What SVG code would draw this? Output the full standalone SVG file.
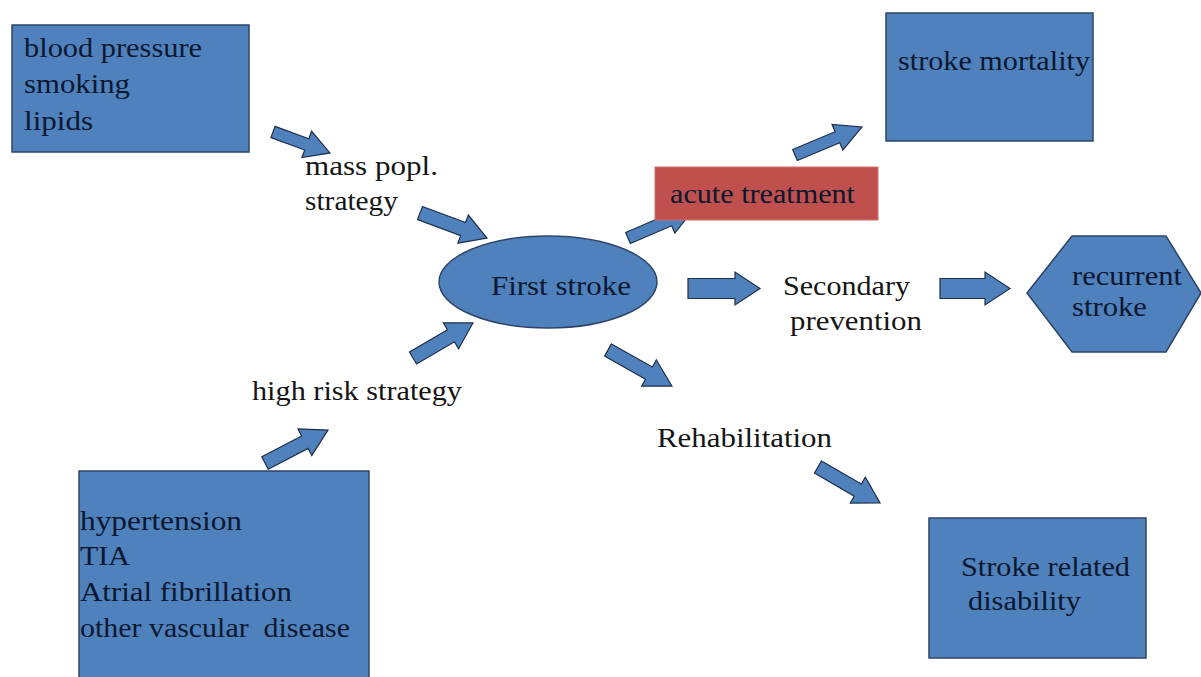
<svg xmlns="http://www.w3.org/2000/svg" width="1201" height="677" viewBox="0 0 1201 677">
  <style>
    .node { fill: #4F81BD; stroke: #2E4466; stroke-width: 1.5; }
    .alert { fill: #C0504D; stroke: #D07070; stroke-width: 1; }
    .arrow { fill: #4F81BD; stroke: #1F2F4A; stroke-width: 1.2; stroke-linejoin: miter; }
    .in { fill: #0B1830; }
    .out { fill: #151515; }
  </style>
  <rect width="1201" height="677" fill="#ffffff"/>

  <!-- connectors: block arrows drawn along their own axis -->
  <g id="connectors">
    <path class="arrow" transform="translate(273,132) rotate(20.2)" d="M0,-6 L36,-6 L36,-14 L60.7,0 L36,14 L36,6 L0,6 Z"/>
    <path class="arrow" transform="translate(420,213) rotate(20.5)" d="M0,-7 L46,-7 L46,-15 L71.5,0 L46,15 L46,7 L0,7 Z"/>
    <path class="arrow" transform="translate(628,238) rotate(-23.3)" d="M0,-6 L45,-6 L45,-14 L70.8,0 L45,14 L45,6 L0,6 Z"/>
    <path class="arrow" transform="translate(795,155) rotate(-22.7)" d="M0,-6 L46,-6 L46,-14 L72.6,0 L46,14 L46,6 L0,6 Z"/>
    <path class="arrow" transform="translate(688,288.5)" d="M0,-10 L47,-10 L47,-16.5 L72,0 L47,16.5 L47,10 L0,10 Z"/>
    <path class="arrow" transform="translate(940,288.5)" d="M0,-10 L45,-10 L45,-16.5 L70,0 L45,16.5 L45,10 L0,10 Z"/>
    <path class="arrow" transform="translate(608,350) rotate(29.4)" d="M0,-7 L47,-7 L47,-15 L73.4,0 L47,15 L47,7 L0,7 Z"/>
    <path class="arrow" transform="translate(818,467) rotate(30.1)" d="M0,-7 L46,-7 L46,-15 L71.7,0 L46,15 L46,7 L0,7 Z"/>
    <path class="arrow" transform="translate(413,358) rotate(-30.3)" d="M0,-7 L44,-7 L44,-15 L69.5,0 L44,15 L44,7 L0,7 Z"/>
    <path class="arrow" transform="translate(265,463) rotate(-27.6)" d="M0,-7 L45,-7 L45,-15 L71.1,0 L45,15 L45,7 L0,7 Z"/>
  </g>

  <!-- all labels share one serif face -->
  <g font-family="Times New Roman, Liberation Serif, Tinos, DejaVu Serif, Noto Serif, serif" font-size="28">
    <!-- risk factors, population level -->
    <g id="risk-factors">
      <rect class="node" x="12" y="25" width="237" height="127"/>
      <text class="in" x="24" y="57" textLength="178" lengthAdjust="spacingAndGlyphs">blood pressure</text>
      <text class="in" x="24" y="93" textLength="106" lengthAdjust="spacingAndGlyphs">smoking</text>
      <text class="in" x="24" y="130" textLength="69" lengthAdjust="spacingAndGlyphs">lipids</text>
    </g>

    <g id="mass-strategy">
      <text class="out" x="305" y="175" textLength="133" lengthAdjust="spacingAndGlyphs">mass popl.</text>
      <text class="out" x="305" y="210" textLength="93" lengthAdjust="spacingAndGlyphs">strategy</text>
    </g>

    <g id="stroke-mortality">
      <rect class="node" x="886" y="13" width="207" height="128"/>
      <text class="in" x="898" y="70" textLength="192" lengthAdjust="spacingAndGlyphs">stroke mortality</text>
    </g>

    <g id="acute-treatment">
      <rect class="alert" x="655" y="167" width="223" height="53"/>
      <text class="in" x="670" y="203" textLength="185" lengthAdjust="spacingAndGlyphs">acute treatment</text>
    </g>

    <g id="first-stroke">
      <ellipse class="node" cx="548" cy="282" rx="109" ry="46"/>
      <text class="in" x="491" y="295" textLength="140" lengthAdjust="spacingAndGlyphs">First stroke</text>
    </g>

    <g id="secondary-prevention">
      <text class="out" x="783" y="295" textLength="127" lengthAdjust="spacingAndGlyphs">Secondary</text>
      <text class="out" x="790" y="330" textLength="132" lengthAdjust="spacingAndGlyphs">prevention</text>
    </g>

    <g id="recurrent-stroke">
      <polygon class="node" points="1027,293 1072,236 1166,236 1201,293 1166,352 1072,352"/>
      <text class="in" x="1072" y="285" textLength="110" lengthAdjust="spacingAndGlyphs">recurrent</text>
      <text class="in" x="1072" y="316" textLength="75" lengthAdjust="spacingAndGlyphs">stroke</text>
    </g>

    <g id="high-risk-strategy">
      <text class="out" x="252" y="400" textLength="210" lengthAdjust="spacingAndGlyphs">high risk strategy</text>
    </g>

    <g id="rehabilitation">
      <text class="out" x="657" y="447" textLength="175" lengthAdjust="spacingAndGlyphs">Rehabilitation</text>
    </g>

    <!-- risk factors, individual level -->
    <g id="high-risk-factors">
      <rect class="node" x="79" y="471" width="290" height="212"/>
      <text class="in" x="80" y="530" textLength="162" lengthAdjust="spacingAndGlyphs">hypertension</text>
      <text class="in" x="80" y="565" textLength="50" lengthAdjust="spacingAndGlyphs">TIA</text>
      <text class="in" x="80" y="601" textLength="212" lengthAdjust="spacingAndGlyphs">Atrial fibrillation</text>
      <text class="in" x="80" y="637" textLength="270" lengthAdjust="spacingAndGlyphs" xml:space="preserve">other vascular  disease</text>
    </g>

    <g id="stroke-disability">
      <rect class="node" x="929" y="518" width="217" height="140"/>
      <text class="in" x="961" y="576" textLength="169" lengthAdjust="spacingAndGlyphs">Stroke related</text>
      <text class="in" x="968" y="610" textLength="113" lengthAdjust="spacingAndGlyphs">disability</text>
    </g>
  </g>
</svg>
